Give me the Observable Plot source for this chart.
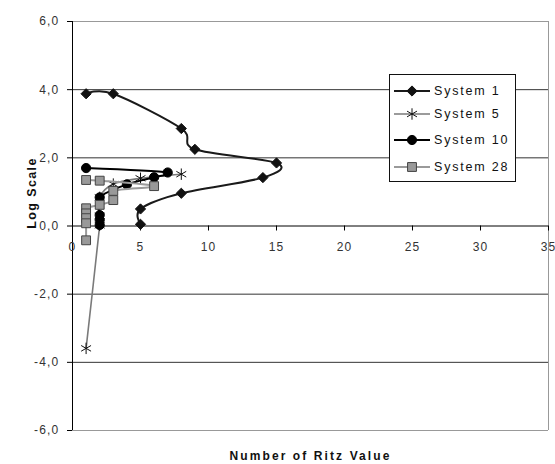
<!DOCTYPE html>
<html><head><meta charset="utf-8">
<script src="https://cdn.jsdelivr.net/npm/d3@7"></script>
<script src="https://cdn.jsdelivr.net/npm/@observablehq/plot@0.6"></script>
<style>
body{margin:0;background:#fff;}
#chart{position:relative;width:555px;height:464px;font-family:"Liberation Sans",Arial,sans-serif;}
#chart svg text{letter-spacing:1.2px;}
#legend{position:absolute;left:389px;top:74px;width:127px;height:108px;border:1px solid #111;background:#fff;box-sizing:border-box;}
</style></head><body><div id="chart"></div>
<script>
const seriesNames = ["System 1", "System 5", "System 10", "System 28"];
const sys1X = [1, 3, 8, 9, 15, 14, 8, 5, 5];
const sys1Y = [3.88, 3.88, 2.86, 2.25, 1.85, 1.42, 0.96, 0.5, 0.05];
const sys5X = [8, 5, 3, 2, 2, 2, 1];
const sys5Y = [1.52, 1.4, 1.23, 0.84, 0.3, 0.02, -3.59];
const sys10X = [1, 7, 6, 4, 2, 2, 2, 2];
const sys10Y = [1.7, 1.57, 1.43, 1.22, 0.84, 0.32, 0.18, 0.03];
const sys28X = [1, 2, 6, 3, 3, 2, 1, 1, 1, 1, 1];
const sys28Y = [1.35, 1.33, 1.17, 1.03, 0.76, 0.62, 0.52, 0.37, 0.23, 0.08, -0.42];
const xTicks = [0, 5, 10, 15, 20, 25, 30, 35];
const yTicks = [-6, -4, -2, 0, 2, 4, 6];
const gridLines = [-4, -2, 2, 4];

const rows = (xs, ys) => xs.map((x, i) => ({x, y: ys[i]}));
const series = [
  {name: seriesNames[0], data: rows(sys1X, sys1Y), line: "#1a1a1a", lw: 2, symbol: "diamond2", r: 4.6, fill: "#111", stroke: "#111"},
  {name: seriesNames[1], data: rows(sys5X, sys5Y), line: "#7a7a7a", lw: 1.6, symbol: "asterisk", r: 5.4, fill: "none", stroke: "#111"},
  {name: seriesNames[2], data: rows(sys10X, sys10Y), line: "#000", lw: 2, symbol: "circle", r: 4.6, fill: "#000", stroke: "#000"},
  {name: seriesNames[3], data: rows(sys28X, sys28Y), line: "#9a9a9a", lw: 2, symbol: "square", r: 5, fill: "#999", stroke: "#444"}
];

const marks = [
  Plot.ruleY(gridLines, {stroke: "#333", strokeWidth: 1}),
  Plot.ruleY([6, -6], {stroke: "#999"}),
  Plot.ruleX([35], {stroke: "#999"}),
  Plot.ruleY([0], {stroke: "#000"}),
  Plot.ruleX([0], {stroke: "#000"}),
  Plot.ruleX(xTicks, {x: d => d, y1: () => 0, y2: () => 0, insetBottom: -5, stroke: "#000"}),
  Plot.text(xTicks, {x: d => d, y: () => 0, dy: 21, text: d => String(d), fill: "#333", fontSize: 12}),
  Plot.axisY(yTicks, {tickSize: 5, tickPadding: 8, tickFormat: d => d.toFixed(1).replace(".", ","), label: null, fill: "#333", stroke: "#000", fontSize: 12}),
  Plot.text(["Log Scale"], {frameAnchor: "left", textAnchor: "middle", lineAnchor: "middle", dx: -41, dy: -33, rotate: -90, text: d => d, fontWeight: "bold", fontSize: 12.5, fill: "#111", style: "letter-spacing:1.5px"}),
  Plot.text(["Number of Ritz Value"], {frameAnchor: "bottom", textAnchor: "middle", lineAnchor: "middle", dy: 26, text: d => d, fontWeight: "bold", fontSize: 12, fill: "#111"})
];
for (const s of series) {
  marks.push(Plot.line(s.data, {x: "x", y: "y", stroke: s.line, strokeWidth: s.lw, curve: "cardinal"}));
  marks.push(Plot.dot(s.data, {x: "x", y: "y", symbol: s.symbol, r: s.r, fill: s.fill, stroke: s.stroke, strokeWidth: 1}));
}

const chart = Plot.plot({
  width: 555, height: 464,
  marginLeft: 72, marginRight: 7, marginTop: 21, marginBottom: 34,
  x: {domain: [0, 35], axis: null},
  y: {domain: [-6, 6], axis: null},
  style: {fontFamily: "'Liberation Sans', Arial, sans-serif", fontSize: "12px", background: "#fff"},
  marks
});
const root = document.getElementById("chart");
root.appendChild(chart);
// wider tracking for the axis titles, as in the reference
d3.select(chart).selectAll("text").filter(function() { return this.textContent === "Number of Ritz Value"; }).style("letter-spacing", "2.1px");
d3.select(chart).selectAll("text").filter(function() { return this.textContent === "Log Scale"; }).style("letter-spacing", "1.4px");

// Legend overlay
const leg = document.createElement("div");
leg.id = "legend";
root.appendChild(leg);
const lsvg = d3.select(leg).append("svg").attr("width", 125).attr("height", 106);
const rowY = [16, 39, 65, 92];
series.forEach((s, i) => {
  const g = lsvg.append("g").attr("transform", `translate(0,${rowY[i]})`);
  g.append("line").attr("x1", 4).attr("x2", 40).attr("y1", 0).attr("y2", 0)
    .attr("stroke", s.line).attr("stroke-width", s.lw);
  const sym = {diamond2: d3.symbolDiamond2, asterisk: d3.symbolAsterisk, circle: d3.symbolCircle, square: d3.symbolSquare}[s.symbol];
  g.append("path").attr("transform", "translate(22,0)")
    .attr("d", d3.symbol(sym, s.r * s.r * Math.PI)())
    .attr("fill", s.fill).attr("stroke", s.stroke).attr("stroke-width", 1);
  g.append("text").attr("x", 44).attr("y", 0).attr("dy", "0.35em")
    .attr("font-size", 12.5).attr("fill", "#111").style("letter-spacing", "1.8px").text(s.name);
});
</script></body></html>
